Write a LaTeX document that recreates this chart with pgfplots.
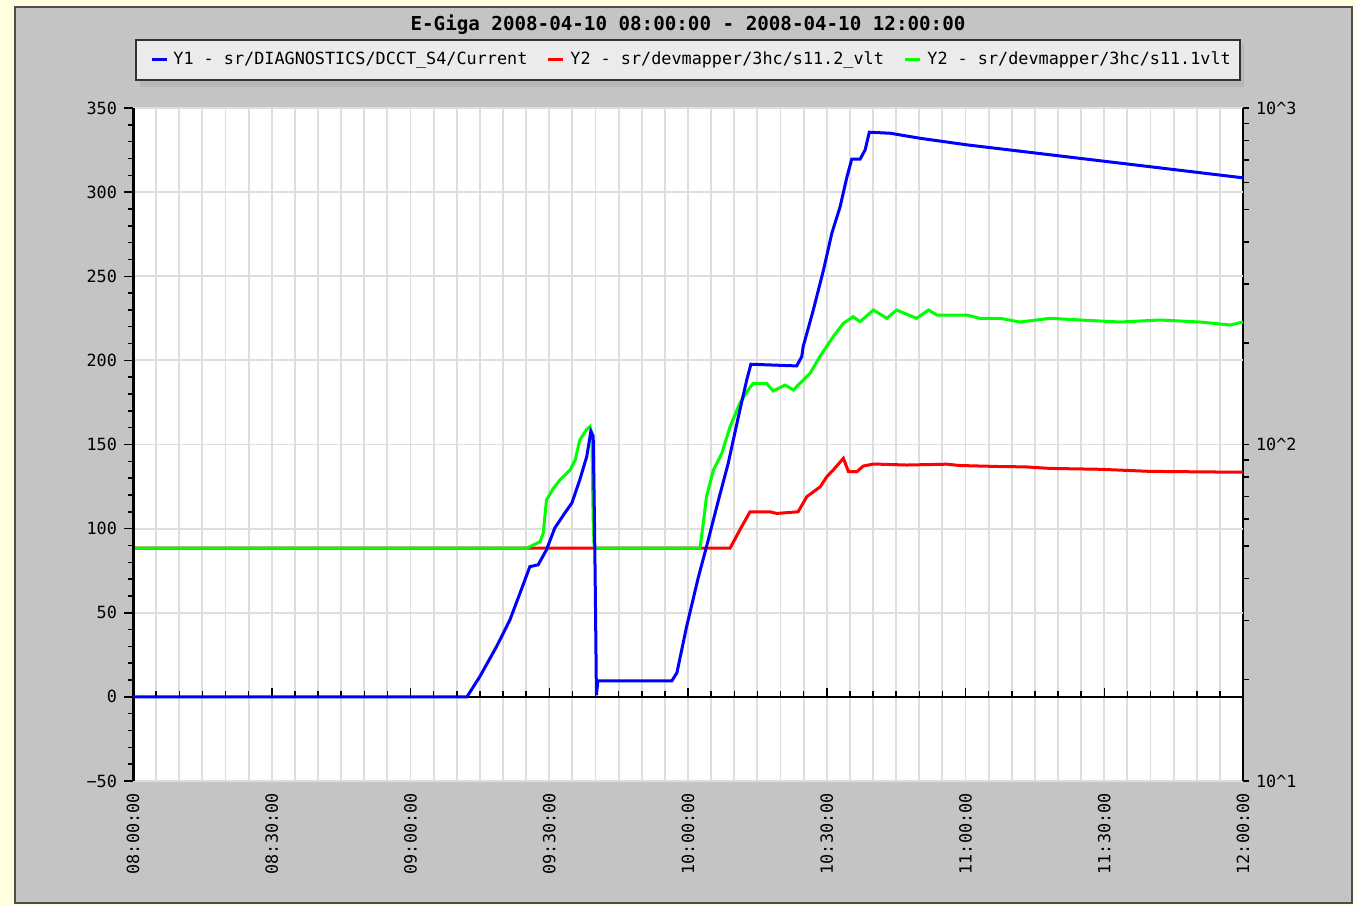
\documentclass[border=0pt]{standalone}
\usepackage{pgfplots}
\pgfplotsset{compat=1.18}
\usepackage{fontspec}
\setmainfont{DejaVu Sans Mono}
\definecolor{bgyellow}{HTML}{FFFFE0}
\definecolor{panelgray}{HTML}{C4C4C4}
\definecolor{shadowgray}{HTML}{B8B8B8}
\definecolor{legendgray}{HTML}{EBEBEB}
\definecolor{gridgray}{HTML}{DEDEDE}
\definecolor{cblue}{HTML}{0000FF}
\definecolor{cred}{HTML}{FF0000}
\definecolor{cgreen}{HTML}{00FF00}
\newcommand{\lbl}{\fontsize{8.4}{10}\selectfont}
\begin{document}
\begin{tikzpicture}
\fill[bgyellow] (-66.5pt,-62.5pt) rectangle (611pt,390.5pt);
\filldraw[fill=panelgray, draw=black!70, line width=0.6pt] (-59pt,-61pt) rectangle (609.5pt,387pt);
\fill[shadowgray] (3.5pt,347pt) rectangle (555.5pt,368.5pt);
\filldraw[fill=legendgray, draw=black!80, line width=0.6pt] (1.5pt,350.5pt) rectangle (553.5pt,370.5pt);

% Y2 (log) axis, with grid
\begin{axis}[
  at={(0pt,0pt)}, anchor=south west,
  scale only axis, width=555pt, height=336.5pt,
  xmin=0, xmax=240, ymin=10, ymax=1000, ymode=log,
  axis background/.style={fill=white},
  separate axis lines,
  axis x line*=bottom, x axis line style={draw=none},
  axis y line*=right, y axis line style={black, line width=0.75pt},
  xtick={0,30,...,240}, minor xtick={0,5,...,240}, xticklabels={},
  xtick style={draw=none},
  xmajorgrids, xminorgrids, ymajorgrids,
  grid style={gridgray, line width=0.9pt},
  minor grid style={gridgray, line width=0.9pt},
  ytick={10,100,1000},
  yticklabels={10\textasciicircum1,10\textasciicircum2,10\textasciicircum3},
  minor ytick={20,30,40,50,60,70,80,90,200,300,400,500,600,700,800,900},
  extra y ticks={17.783,31.623,56.234,177.83,316.23,562.34},
  extra y tick labels={},
  extra y tick style={grid=major, major tick length=0pt},
  tick align=outside, major tick length=3pt, minor tick length=3pt,
  ytick style={black, line width=0.75pt},
  yticklabel style={font=\lbl, anchor=west},
]
\addplot[cred, line width=1.5pt] coordinates {
(0,49.2) (129.1,49.2) (131.2,55.7) (133.4,63.1) (137.7,63.1) (139.2,62.4) (143.8,63.1)
(145.7,70.0) (148.6,74.9) (150.0,80.2) (151.4,84.0) (153.6,91.0) (154.7,83.0) (156.5,83.0)
(157.9,86.3) (160.1,87.5) (167.3,86.9) (176.0,87.4) (178.8,86.6) (187.5,86.0) (193.0,85.8)
(198.3,84.9) (209.1,84.4) (219.9,83.2) (240,82.7)};
\addplot[cgreen, line width=1.5pt] coordinates {
(0,49.2) (85.2,49.2) (85.8,49.7) (88.0,51.4) (88.7,54.5) (89.4,68.4) (90.9,74.1) (92.3,78.4)
(94.5,84.0) (95.6,89.9) (96.6,103.1) (98.1,111.0) (98.8,113.0) (99.2,108.0) (99.5,59.7)
(99.7,49.7) (99.9,49.2) (122.6,49.2) (123.3,58.3) (124.0,70.0) (125.5,84.0) (127.3,94.1)
(129.1,113.0) (131.2,132.6) (133.0,145.2) (134.1,152.0) (137.0,152.0) (138.4,144.2)
(141.0,150.2) (142.8,145.2) (144.2,152.0) (146.4,162.8) (148.5,182.4) (151.4,209.2)
(153.6,229.2) (155.7,239.8) (157.2,231.7) (160.1,251.0) (163.0,237.1) (165.1,251.0)
(169.4,237.1) (172.0,251.0) (173.8,242.5) (180.3,242.5) (183.1,237.1) (187.5,237.1)
(191.8,231.2) (198.3,237.1) (204.8,234.4) (213.4,231.2) (222.1,234.4) (230.7,231.2)
(237.2,226.5) (240,231.2)};
\end{axis}

% Y1 (linear) axis
\begin{axis}[
  at={(0pt,0pt)}, anchor=south west,
  scale only axis, width=555pt, height=336.5pt,
  xmin=0, xmax=240, ymin=-50, ymax=350,
  separate axis lines,
  axis x line*=bottom, x axis line style={draw=none},
  axis y line*=left, y axis line style={black, line width=1.5pt},
  xtick={0,30,...,240},
  xticklabels={08:00:00,08:30:00,09:00:00,09:30:00,10:00:00,10:30:00,11:00:00,11:30:00,12:00:00},
  xtick style={draw=none},
  xticklabel style={font=\lbl, rotate=90, anchor=east, inner sep=1.5pt},
  ytick={-50,0,...,350},
  yticklabels={−50,0,50,100,150,200,250,300,350},
  minor y tick num=4,
  tick align=outside, major tick length=4.5pt, minor tick length=2.5pt,
  ytick style={black, line width=0.75pt},
  yticklabel style={font=\lbl},
]
\draw[black, line width=1pt] (axis cs:0,0) -- (axis cs:240,0);
\pgfplotsinvokeforeach{0,5,...,240}{\draw[black, line width=0.75pt] (axis cs:#1,0) -- ++(0pt,3pt);}
\pgfplotsinvokeforeach{0,30,...,240}{\draw[black, line width=0.75pt] (axis cs:#1,0) -- ++(0pt,4.5pt);}
\addplot[cblue, line width=1.5pt] coordinates {
(0,0) (72.2,0) (75.0,12.1) (78.6,29.9) (81.5,45.8) (83.7,61.8) (85.8,77.4) (87.6,78.5)
(89.4,87.4) (91.2,100.4) (93.4,109.4) (94.9,115.3) (96.6,129.0) (98.1,142.8) (99.0,157.7)
(99.5,155) (99.8,100) (100.0,53) (100.2,1) (100.5,9.5) (116.5,9.5) (117.6,14.3) (119.7,41.8)
(122.2,70.7) (124.0,89.3) (126.6,117.1) (128.7,138.9) (130.9,166.6) (132.7,188.4)
(133.6,197.7) (143.5,196.7) (144.6,202.3) (144.9,208.2) (147.1,230.0) (149.3,253.8)
(151.1,275.6) (152.9,291.4) (154.3,308.3) (155.4,319.6) (157.2,319.6) (158.3,325.1)
(159.2,335.6) (163.7,335.0) (170.2,332.0) (180.3,328.1) (240,308.5)};
\end{axis}

\node[font=\bfseries\fontsize{9.6}{11}\selectfont] at (277.5pt,378pt) {E-Giga 2008-04-10 08:00:00 - 2008-04-10 12:00:00};
\draw[cblue, line width=1.5pt] (9.5pt,360.5pt) -- (17pt,360.5pt);
\node[font=\lbl, anchor=west, inner sep=0pt] at (20pt,360.5pt) {Y1 - sr/DIAGNOSTICS/DCCT\_S4/Current};
\draw[cred, line width=1.5pt] (207.5pt,360.5pt) -- (215pt,360.5pt);
\node[font=\lbl, anchor=west, inner sep=0pt] at (218.5pt,360.5pt) {Y2 - sr/devmapper/3hc/s11.2\_vlt};
\draw[cgreen, line width=1.5pt] (386pt,360.5pt) -- (393.5pt,360.5pt);
\node[font=\lbl, anchor=west, inner sep=0pt] at (397pt,360.5pt) {Y2 - sr/devmapper/3hc/s11.1vlt};
\end{tikzpicture}
\end{document}
